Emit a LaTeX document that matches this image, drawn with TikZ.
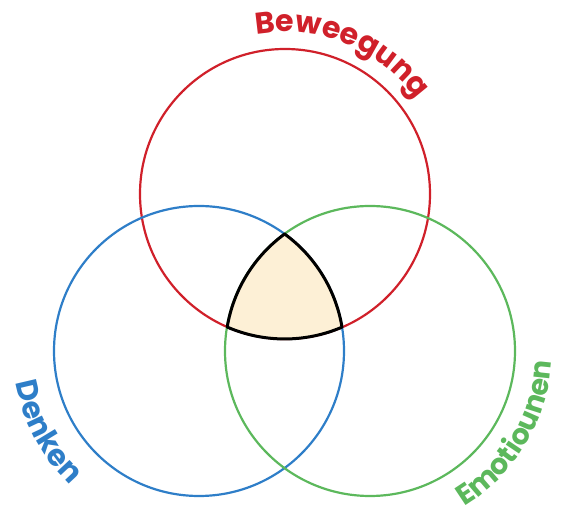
\documentclass[tikz,border=0pt]{standalone}
\usepackage{fontspec}
\setmainfont{Poppins}
\usetikzlibrary{decorations.text}
\definecolor{redc}{RGB}{208,32,42}
\definecolor{bluec}{RGB}{46,126,200}
\definecolor{greenc}{RGB}{92,184,92}
\definecolor{fillc}{RGB}{253,240,214}
\tikzset{
  ring/.style={circle, draw=#1, line width=2.2pt, minimum size=290pt, inner sep=0pt},
  outline/.style={draw=black, line width=3pt, line join=round, fill=fillc},
  lbl/.style={decorate, decoration={text along path, text align=center, text color=#1}}
}
\newcommand{\lblfont}{\fontsize{30}{32}\selectfont\bfseries}
\newcommand{\lblfontg}{\fontsize{28.5}{30}\selectfont\bfseries}
\begin{document}
\begin{tikzpicture}[x=1pt,y=1pt]
\useasboundingbox (0,0) rectangle (566,517);
\node[ring=redc] (bew) at (285,323) {};
\node[ring=bluec] (den) at (199,166) {};
\node[ring=greenc] (emo) at (370,166) {};
% common region
\path[outline] (den.center) ++(53.86:145) arc[start angle=53.86,end angle=9.47,radius=145]
  arc[start angle=-66.71,end angle=-113.36,radius=145]
  arc[start angle=170.48,end angle=126.14,radius=145] -- cycle;
% labels
\path[lbl=redc, decoration={text={|\lblfont|Beweegung}}] (bew.center) ++(128:162) arc[start angle=128,end angle=8,radius=162];
\path[lbl=bluec, decoration={text={|\lblfont|Denken}}] (den.center) ++(148:186) arc[start angle=148,end angle=268,radius=186];
\path[lbl=greenc, decoration={text={|\lblfontg|Emotiounen}}] (emo.center) ++(-91:182) arc[start angle=-91,end angle=29,radius=182];
\end{tikzpicture}
\end{document}
